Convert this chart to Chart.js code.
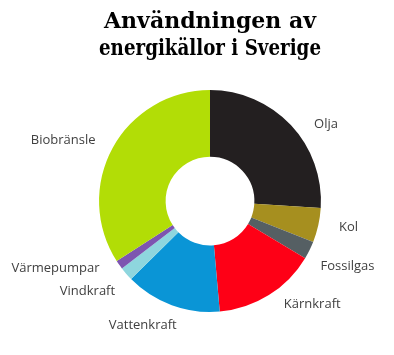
<!DOCTYPE html>
<html>
<head>
<meta charset="utf-8">
<script src="https://cdn.jsdelivr.net/npm/chart.js@4"></script>
<style>
  html, body { margin: 0; padding: 0; background: #fff; }
  #wrap { width: 394px; height: 355px; }
</style>
</head>
<body>
<div id="wrap"><canvas id="chart" width="394" height="355"></canvas></div>
<script>
// energy sources, clockwise from 12 o'clock
const sources = ['Olja', 'Kol', 'Fossilgas', 'Kärnkraft', 'Vattenkraft', 'Vindkraft', 'Värmepumpar', 'Biobränsle'];
const shares = [26, 5, 2.6, 15, 14, 2, 1.3, 34.1];
const sliceColors = ['#231f20', '#a68f1f', '#555f63', '#fe0016', '#0a95d6', '#8ed6de', '#7d55b0', '#b2dd06'];
const titleLines = ['Användningen av', 'energikällor i Sverige'];

// label nudges (px) from the default spot outside each slice
const labelNudge = [[14, 19], [2, -4], [12, 3], [28, -15], [-19, -7], [-17, -2], [-40, -13], [-24, 6]];

const outsideLabels = {
  id: 'outsideLabels',
  afterDatasetsDraw(chart) {
    const ctx = chart.ctx;
    const meta = chart.getDatasetMeta(0);
    ctx.save();
    ctx.font = '13px "Open Sans"';
    ctx.fillStyle = '#404040';
    ctx.textAlign = 'center';
    ctx.textBaseline = 'middle';
    meta.data.forEach((arc, i) => {
      const mid = (arc.startAngle + arc.endAngle) / 2;
      const r = arc.outerRadius + 29;
      const x = arc.x + Math.cos(mid) * r + labelNudge[i][0];
      const y = arc.y + Math.sin(mid) * r + labelNudge[i][1];
      ctx.fillText(chart.data.labels[i], x, y);
    });
    ctx.restore();
  }
};

new Chart(document.getElementById('chart'), {
  type: 'doughnut',
  data: {
    labels: sources,
    datasets: [{
      data: shares,
      backgroundColor: sliceColors,
      borderWidth: 0
    }]
  },
  options: {
    responsive: false,
    animation: false,
    cutout: '40%',
    layout: {
      padding: { left: 99, right: 73, top: 0, bottom: 43 }
    },
    plugins: {
      legend: { display: false },
      tooltip: { enabled: false },
      title: {
        display: true,
        text: titleLines,
        color: '#000',
        font: { family: '"DejaVu Serif"', size: 22, weight: 'bold', lineHeight: 1.23 },
        padding: { top: 9, bottom: 27 }
      }
    }
  },
  plugins: [outsideLabels]
});
</script>
</body>
</html>
